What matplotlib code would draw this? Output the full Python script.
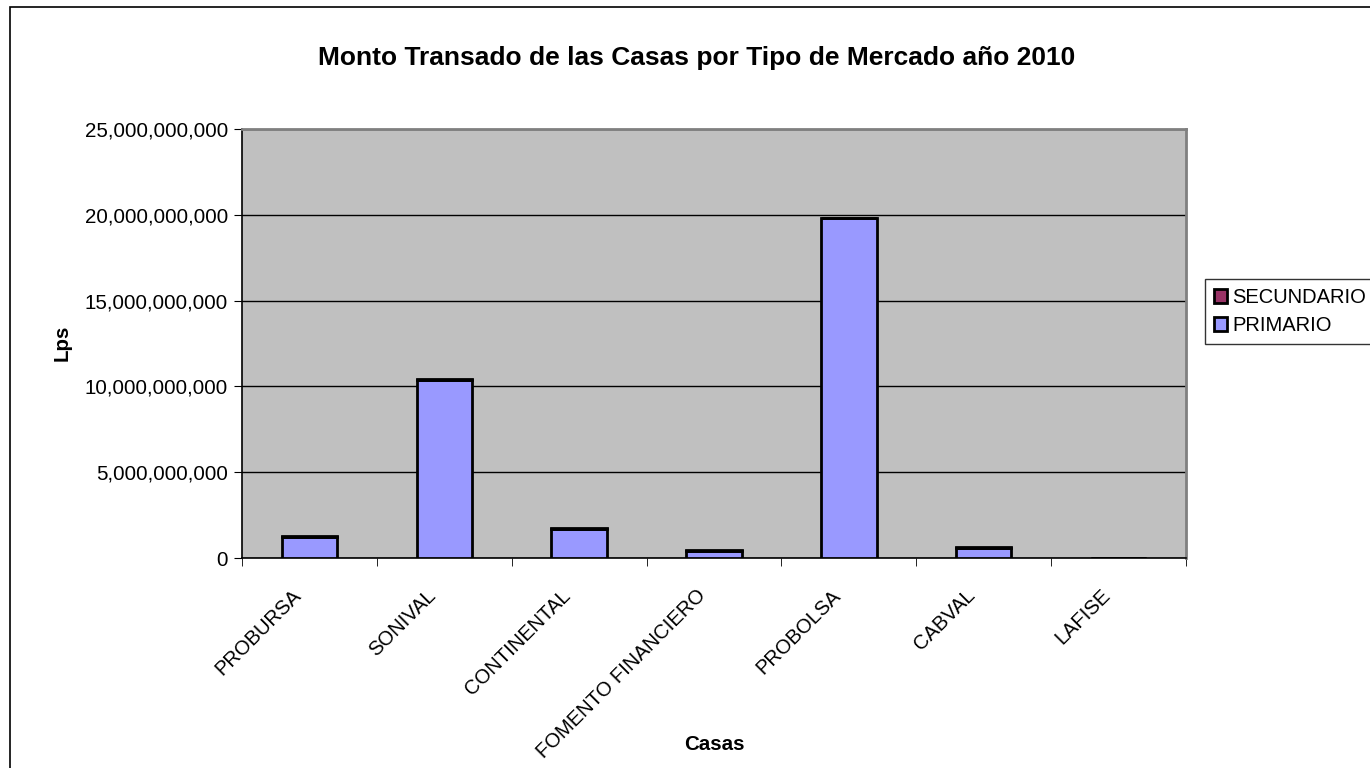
import matplotlib.pyplot as plt
import matplotlib.patches as mpatches
from matplotlib.ticker import FuncFormatter
from matplotlib.transforms import ScaledTranslation
import numpy as np

# Data
casas = ['PROBURSA', 'SONIVAL', 'CONTINENTAL', 'FOMENTO FINANCIERO',
         'PROBOLSA', 'CABVAL', 'LAFISE']
primario = [1.22e9, 10.40e9, 1.68e9, 0.43e9, 19.80e9, 0.58e9, 0.02e9]
secundario = [0.06e9, 0.03e9, 0.04e9, 0.05e9, 0.02e9, 0.05e9, 0.005e9]

plt.rcParams['font.family'] = ['Liberation Sans', 'DejaVu Sans']

W, H = 1370, 768
fig = plt.figure(figsize=(W / 100, H / 100), dpi=100)

# outer chart border (runs off the right/bottom edge like the reference)
fig.patches.append(mpatches.Rectangle((10 / W, -0.1), 1.2, 1 - 7 / H + 0.1,
                                      transform=fig.transFigure, fill=False,
                                      edgecolor='black', linewidth=1.2))

ax = fig.add_axes([242 / W, 1 - 558 / H, (1186 - 242) / W, (558 - 129) / H])
ax.set_facecolor('#C0C0C0')

x = np.arange(len(casas))
w = 0.41
b1 = ax.bar(x, primario, w, color='#9999FF', edgecolor='black',
            linewidth=2, label='PRIMARIO', zorder=3)
b2 = ax.bar(x, secundario, w, bottom=primario, color='#993366',
            edgecolor='black', linewidth=2, label='SECUNDARIO', zorder=3)

ax.set_xlim(-0.5, len(casas) - 0.5)
ax.set_ylim(0, 25e9)
ax.set_yticks(np.arange(0, 25e9 + 1, 5e9))
ax.yaxis.set_major_formatter(FuncFormatter(lambda v, p: f'{v:,.0f}'))
ax.grid(axis='y', color='black', linewidth=1, zorder=1)

ax.set_xticks(x)
ax.set_xticklabels(casas, rotation=45, ha='right', va='top',
                   rotation_mode='anchor', fontsize=14.5)
ax.tick_params(axis='x', length=0, pad=0)
shift = ScaledTranslation(-18 / 100, -28 / 100, fig.dpi_scale_trans)
for lab in ax.get_xticklabels():
    lab.set_transform(lab.get_transform() + shift)
ax.set_xticks(np.arange(-0.5, len(casas)), minor=True)
ax.tick_params(axis='x', which='minor', length=6, color='black')
ax.tick_params(axis='y', labelsize=14.8, length=6, pad=4)

for s in ['top', 'right']:
    ax.spines[s].set_color('#808080')
    ax.spines[s].set_linewidth(2)
for s in ['left', 'bottom']:
    ax.spines[s].set_color('black')
    ax.spines[s].set_linewidth(1.2)

fig.text(697 / W, 1 - 58 / H, 'Monto Transado de las Casas por Tipo de Mercado año 2010',
         ha='center', va='center', fontsize=19, fontweight='bold')
fig.text(62 / W, 1 - 343 / H, 'Lps', ha='center', va='center', rotation=90,
         fontsize=14.8, fontweight='bold')
fig.text(714 / W, 1 - 745 / H, 'Casas', ha='center', va='center',
         fontsize=14.8, fontweight='bold')

leg = fig.legend([b2, b1], ['SECUNDARIO', 'PRIMARIO'], loc='upper left',
                 bbox_to_anchor=(1205 / W, 1 - 279 / H), frameon=True,
                 fancybox=False, edgecolor='black', fontsize=14.5,
                 handlelength=0.65, handleheight=0.65, handletextpad=0.25,
                 borderpad=0.45, labelspacing=0.45, borderaxespad=0)
leg.get_frame().set_linewidth(1)

fig.savefig('out.png', dpi=100)
